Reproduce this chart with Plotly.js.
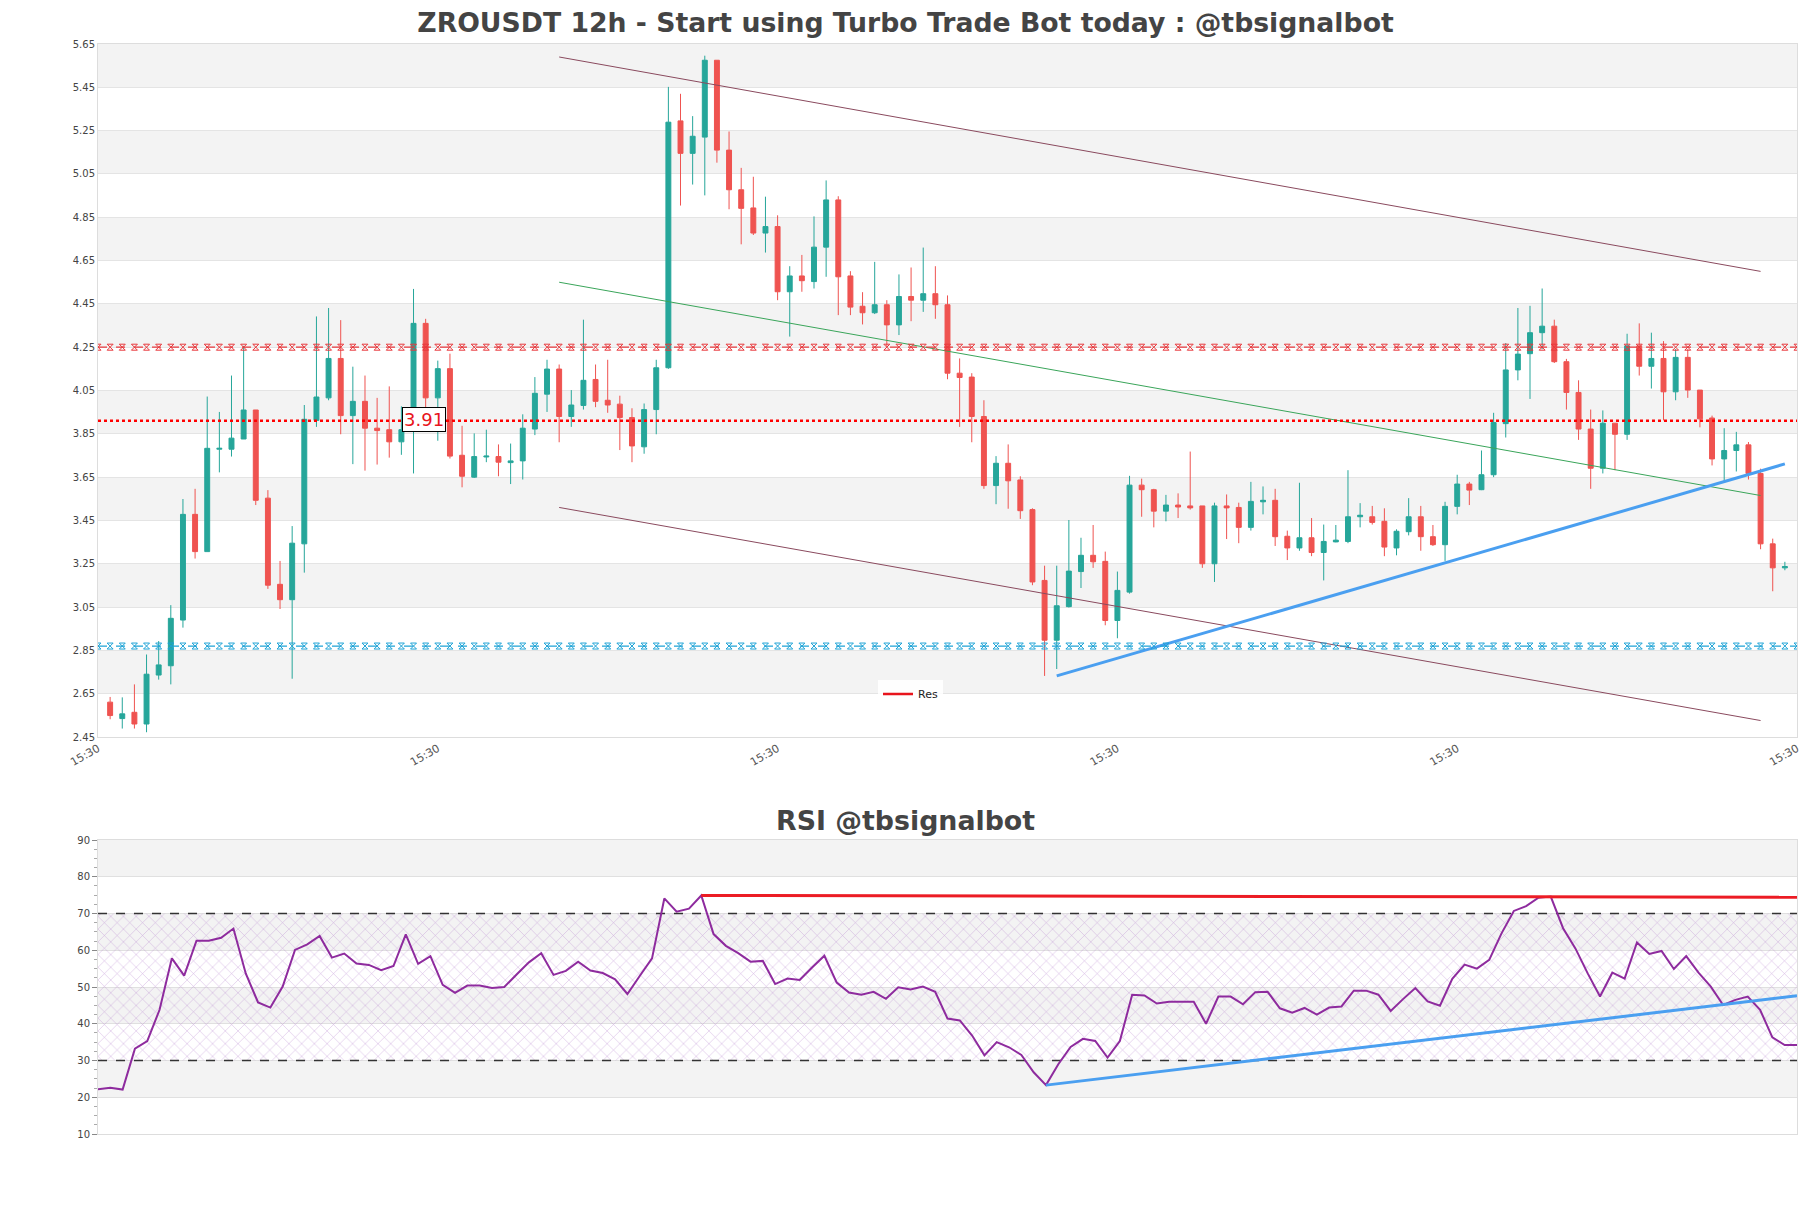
<!DOCTYPE html>
<html>
<head>
<meta charset="utf-8">
<script src="https://cdn.plot.ly/plotly-3.0.1.min.js"></script>
<style>html,body{margin:0;padding:0;background:#fff}#chart{width:1811px;height:1208px}</style>
</head>
<body>
<div id="chart"></div>
<script>
// ---------------- DATA ----------------
const opens = [2.611,2.535,2.564,2.510,2.736,2.779,2.990,3.478,3.306,3.779,3.779,3.826,3.960,3.553,3.155,3.084,3.342,3.912,4.016,4.198,3.934,4.000,3.876,3.869,3.813,3.869,4.360,4.016,4.151,3.751,3.650,3.743,3.745,3.717,3.725,3.872,4.033,4.149,3.930,3.981,4.101,4.005,3.987,3.925,3.790,3.962,4.155,5.295,5.145,5.220,5.575,5.160,4.977,4.893,4.777,4.807,4.506,4.579,4.553,4.712,4.930,4.579,4.439,4.409,4.446,4.353,4.484,4.467,4.497,4.446,4.130,4.112,3.930,3.611,3.714,3.637,3.500,3.173,2.897,3.052,3.214,3.289,3.261,2.988,3.119,3.613,3.592,3.493,3.521,3.517,3.517,3.250,3.517,3.510,3.418,3.536,3.543,3.377,3.323,3.370,3.302,3.351,3.353,3.467,3.467,3.446,3.323,3.398,3.467,3.375,3.338,3.515,3.618,3.592,3.661,3.897,4.145,4.220,4.317,4.347,4.183,4.041,3.872,3.691,3.899,3.848,4.256,4.162,4.198,4.044,4.203,4.052,3.923,3.734,3.773,3.799,3.667,3.342,3.231];
const highs = [2.635,2.633,2.693,2.831,2.893,3.059,3.549,3.596,4.022,3.951,4.119,4.256,3.960,3.590,3.263,3.424,3.983,4.392,4.431,4.375,4.160,4.119,4.016,4.069,3.977,4.519,4.381,4.188,4.220,3.887,3.852,3.869,3.801,3.805,3.940,4.112,4.192,4.170,4.052,4.377,4.170,4.192,4.026,3.968,3.990,4.192,5.452,5.420,5.317,5.596,5.575,5.246,5.078,5.037,4.945,4.859,4.624,4.676,4.854,5.020,4.947,4.601,4.504,4.644,4.467,4.586,4.618,4.710,4.624,4.489,4.198,4.130,4.005,3.747,3.801,3.654,3.506,3.241,3.241,3.452,3.370,3.429,3.306,3.214,3.656,3.643,3.596,3.568,3.575,3.768,3.517,3.532,3.570,3.532,3.628,3.607,3.596,3.403,3.624,3.461,3.431,3.429,3.682,3.530,3.517,3.506,3.409,3.553,3.517,3.429,3.536,3.661,3.628,3.773,3.947,4.269,4.431,4.441,4.521,4.377,4.196,4.097,3.962,3.958,3.899,4.312,4.360,4.317,4.278,4.241,4.241,4.052,3.934,3.876,3.859,3.812,3.689,3.366,3.259];
const lows = [2.532,2.489,2.489,2.472,2.715,2.693,2.955,3.274,3.306,3.672,3.745,3.826,3.521,3.134,3.041,2.719,3.209,3.882,4.005,3.848,3.710,3.680,3.708,3.740,3.753,3.667,3.962,3.818,3.736,3.603,3.646,3.719,3.654,3.618,3.639,3.844,3.951,3.811,3.882,3.962,3.973,3.947,3.775,3.719,3.758,3.848,4.150,4.904,5.001,4.951,5.102,4.887,4.725,4.768,4.687,4.467,4.299,4.506,4.521,4.575,4.398,4.398,4.355,4.403,4.252,4.306,4.370,4.413,4.381,4.102,3.882,3.811,3.596,3.525,3.504,3.457,3.151,2.732,2.764,3.048,3.138,3.231,2.966,2.906,3.112,3.467,3.418,3.446,3.461,3.500,3.231,3.166,3.364,3.345,3.403,3.478,3.332,3.267,3.310,3.285,3.173,3.349,3.345,3.418,3.431,3.285,3.289,3.381,3.310,3.332,3.263,3.478,3.521,3.590,3.650,3.833,4.097,4.011,4.241,4.177,3.962,3.822,3.596,3.667,3.682,3.822,4.119,4.059,3.912,4.005,4.016,3.880,3.704,3.629,3.676,3.639,3.317,3.123,3.220];
const closes = [2.549,2.557,2.510,2.740,2.783,2.998,3.478,3.306,3.783,3.783,3.830,3.960,3.543,3.151,3.084,3.345,3.917,4.020,4.198,3.934,4.000,3.876,3.865,3.813,3.869,4.360,4.016,4.151,3.747,3.654,3.745,3.747,3.719,3.725,3.876,4.037,4.149,3.930,3.983,4.097,4.000,3.983,3.925,3.794,3.962,4.155,5.289,5.145,5.224,5.575,5.160,4.977,4.891,4.777,4.807,4.506,4.579,4.557,4.712,4.930,4.575,4.435,4.409,4.446,4.353,4.484,4.467,4.497,4.446,4.130,4.110,3.930,3.611,3.714,3.633,3.495,3.166,2.897,3.056,3.216,3.289,3.259,2.988,3.127,3.613,3.592,3.493,3.521,3.512,3.508,3.250,3.517,3.508,3.418,3.538,3.543,3.375,3.323,3.370,3.302,3.353,3.359,3.467,3.474,3.441,3.327,3.400,3.467,3.375,3.338,3.515,3.618,3.590,3.661,3.902,4.145,4.218,4.317,4.347,4.183,4.041,3.872,3.691,3.899,3.848,4.256,4.162,4.198,4.044,4.203,4.052,3.919,3.734,3.773,3.799,3.667,3.342,3.231,3.237];

const rsiValues = [22.2,22.6,22.1,33.2,35.3,43.8,57.8,53.1,62.6,62.6,
  63.4,65.9,53.7,45.8,44.4,50.1,60.1,61.6,63.9,58.0,
  59.1,56.4,56.0,54.6,55.7,64.3,56.3,58.4,50.6,48.4,
  50.4,50.4,49.7,50.0,53.4,56.7,59.2,53.3,54.4,56.9,
  54.5,53.8,52.1,48.1,53.0,57.8,74.1,70.5,71.3,74.9,
  64.4,61.2,59.2,56.9,57.1,50.8,52.3,51.9,55.3,58.5,
  51.2,48.5,47.9,48.7,46.8,49.9,49.3,50.1,48.7,41.4,
  40.9,36.8,31.4,35.0,33.6,31.5,26.8,23.3,29.0,33.7,
  35.9,35.3,30.8,35.3,47.9,47.7,45.5,46.0,46.0,46.0,
  40.0,47.4,47.4,45.3,48.6,48.7,44.2,43.0,44.3,42.5,
  44.4,44.7,49.0,49.0,47.9,43.5,46.7,49.7,46.1,44.9,
  52.2,56.1,55.0,57.4,64.6,70.7,72.0,74.3,74.6,66.0,
  60.5,53.7,47.4,53.9,52.3,62.1,59.0,59.8,54.9,58.4,
  53.9,50.1,45.1,46.5,47.4,43.8,36.3,34.2,34.2];

// Horizontal levels
const resistanceLevel = 4.25;
const supportLevel = 2.87;
const resLevel = 3.91;
const resLabel = "3.91";

// Trend lines [x0, x1] (candle index) and [y0, y1] (price)
const channelX = [37, 136];
const channelUpper = [5.59, 4.60];
const channelMid = [4.55, 3.565];
const channelLower = [3.51, 2.526];
const supportLineX = [78, 138];
const supportLineY = [2.732, 3.711];

// RSI lines
const rsiResX = [49, 138];
const rsiResY = [74.9, 74.4];
const rsiSupX = [77, 138];
const rsiSupY = [23.3, 47.6];
const rsiUpper = 70, rsiLower = 30;

// Axes ticks
const xTickVals = [-1, 27, 55, 83, 111, 139];
const xTickText = ["15:30","15:30","15:30","15:30","15:30","15:30"];
const priceRange = [2.45, 5.65];
const rsiRange = [10, 90];
const priceBands = [[2.65,2.85],[3.05,3.25],[3.45,3.65],[3.85,4.05],[4.25,4.45],[4.65,4.85],[5.05,5.25],[5.45,5.65]];
const rsiBands = [[20,30],[40,50],[60,70],[80,90]];

const mainTitle = "ZROUSDT 12h - Start using Turbo Trade Bot today : @tbsignalbot";
const rsiTitle = "RSI @tbsignalbot";

// ---------------- BUILD ----------------
const idx = closes.map((_, i) => i);
const xFull = [xTickVals[0]].concat(idx, [xTickVals[xTickVals.length-1]]);
const FONT = "DejaVu Sans, Verdana, sans-serif";
const H = 1208, W = 1811;
const mainTop = 44, mainBot = 737, rsiTop = 840, rsiBot = 1134;

const traces = [];
traces.push({
  type: 'candlestick', x: idx, open: opens, high: highs, low: lows, close: closes,
  increasing: {line: {color: '#26a69a', width: 1}, fillcolor: '#26a69a'},
  decreasing: {line: {color: '#ef5350', width: 1}, fillcolor: '#ef5350'},
  whiskerwidth: 0, showlegend: false, hoverinfo: 'skip', xaxis: 'x', yaxis: 'y'
});
function lineTrace(x, y, color, width, extra) {
  return Object.assign({type: 'scatter', mode: 'lines', x: x, y: y,
    line: {color: color, width: width}, showlegend: false, hoverinfo: 'skip',
    xaxis: 'x', yaxis: 'y'}, extra || {});
}
traces.push(lineTrace(channelX, channelUpper, '#8a4a5e', 1));
traces.push(lineTrace(channelX, channelLower, '#8a4a5e', 1));
traces.push(lineTrace(channelX, channelMid, '#3aa55a', 1));
traces.push(lineTrace(supportLineX, supportLineY, '#4a9ff0', 3));
traces.push({type: 'scatter', mode: 'lines+markers', x: xFull, y: xFull.map(() => resistanceLevel),
  line: {color: '#e8383c', width: 1.2, dash: 'dash'},
  marker: {symbol: 'hourglass-open', size: 6, color: '#e8383c', line: {width: 1, color: '#e8383c'}},
  showlegend: false, hoverinfo: 'skip', xaxis: 'x', yaxis: 'y'});
traces.push({type: 'scatter', mode: 'lines+markers', x: xFull, y: xFull.map(() => supportLevel),
  line: {color: '#1ea3d6', width: 1.2, dash: 'dash'},
  marker: {symbol: 'hourglass-open', size: 6, color: '#1ea3d6', line: {width: 1, color: '#1ea3d6'}},
  showlegend: false, hoverinfo: 'skip', xaxis: 'x', yaxis: 'y'});
traces.push({type: 'scatter', mode: 'lines', name: 'Res',
  x: [xTickVals[0], xTickVals[xTickVals.length-1]], y: [resLevel, resLevel],
  line: {color: '#ff0000', width: 2.5, dash: 'dot'}, showlegend: false, hoverinfo: 'skip',
  xaxis: 'x', yaxis: 'y'});
// legend entry for Res (solid swatch as in the reference)
traces.push({type: 'scatter', mode: 'lines', name: 'Res', x: [null], y: [null],
  line: {color: '#e8141c', width: 2.5}, showlegend: true, hoverinfo: 'skip', xaxis: 'x', yaxis: 'y'});

// RSI hatch zone
traces.push({type: 'scatter', mode: 'lines', x: [idx[0], idx[idx.length-1]], y: [rsiLower, rsiLower],
  line: {width: 0, color: 'rgba(0,0,0,0)'}, showlegend: false, hoverinfo: 'skip', xaxis: 'x2', yaxis: 'y2'});
traces.push({type: 'scatter', mode: 'lines', x: [idx[0], idx[idx.length-1]], y: [rsiUpper, rsiUpper],
  line: {width: 0, color: 'rgba(0,0,0,0)'}, fill: 'tonexty', fillcolor: 'rgba(0,0,0,0)',
  fillpattern: {shape: 'x', fgcolor: 'rgba(170,110,200,0.6)', bgcolor: 'rgba(0,0,0,0)', size: 9, solidity: 0.1},
  showlegend: false, hoverinfo: 'skip', xaxis: 'x2', yaxis: 'y2'});
traces.push({type: 'scatter', mode: 'lines', x: [idx[0], idx[idx.length-1]], y: [rsiUpper, rsiUpper],
  line: {width: 1.3, color: '#333', dash: 'dash'}, showlegend: false, hoverinfo: 'skip', xaxis: 'x2', yaxis: 'y2'});
traces.push({type: 'scatter', mode: 'lines', x: [idx[0], idx[idx.length-1]], y: [rsiLower, rsiLower],
  line: {width: 1.3, color: '#333', dash: 'dash'}, showlegend: false, hoverinfo: 'skip', xaxis: 'x2', yaxis: 'y2'});
traces.push({type: 'scatter', mode: 'lines', x: idx, y: rsiValues,
  line: {color: '#8e2b9e', width: 2}, showlegend: false, hoverinfo: 'skip', xaxis: 'x2', yaxis: 'y2'});
traces.push({type: 'scatter', mode: 'lines', x: rsiResX, y: rsiResY,
  line: {color: '#ec1c24', width: 3}, showlegend: false, hoverinfo: 'skip', xaxis: 'x2', yaxis: 'y2'});
traces.push({type: 'scatter', mode: 'lines', x: rsiSupX, y: rsiSupY,
  line: {color: '#4a9ff0', width: 3}, showlegend: false, hoverinfo: 'skip', xaxis: 'x2', yaxis: 'y2'});

const shapes = [];
priceBands.forEach(b => shapes.push({type: 'rect', xref: 'x domain', x0: 0, x1: 1, yref: 'y', y0: b[0], y1: b[1],
  fillcolor: '#f3f3f3', line: {width: 0}, layer: 'below'}));
rsiBands.forEach(b => shapes.push({type: 'rect', xref: 'x2 domain', x0: 0, x1: 1, yref: 'y2', y0: b[0], y1: b[1],
  fillcolor: '#f3f3f3', line: {width: 0}, layer: 'below'}));

const ml = 98, mr = 14;
const plotW = W - ml - mr;
const layout = {
  width: W, height: H,
  margin: {l: ml, r: mr, t: 0, b: 0},
  paper_bgcolor: '#ffffff', plot_bgcolor: '#ffffff',
  font: {family: FONT, color: '#444'},
  boxgap: 0.42,
  title: {text: mainTitle, x: 0.5, xref: 'container', y: 1 - 23/H, yref: 'container', yanchor: 'middle', xanchor: 'center',
    font: {family: FONT, size: 26.7, color: '#444', weight: 700}},
  showlegend: true,
  legend: {x: (878 - ml)/plotW, y: 1 - 694/H, xanchor: 'left', yanchor: 'middle',
    bgcolor: 'rgba(255,255,255,0.85)', borderwidth: 0, font: {family: FONT, size: 11, color: '#222'},
    itemwidth: 30, tracegroupgap: 0},
  xaxis: {domain: [0, 1], anchor: 'y', range: [xTickVals[0], xTickVals[xTickVals.length-1]],
    tickmode: 'array', tickvals: xTickVals, ticktext: xTickText, tickangle: -30,
    tickfont: {family: FONT, size: 11, color: '#555'}, showgrid: false, zeroline: false,
    showline: true, mirror: true, linecolor: '#dddddd', linewidth: 1, rangeslider: {visible: false}, ticks: ''},
  yaxis: {domain: [1 - mainBot/H, 1 - mainTop/H], anchor: 'x', range: priceRange,
    tick0: priceRange[0], dtick: 0.2, tickformat: '.2f', tickfont: {family: FONT, size: 10, color: '#444'},
    gridcolor: '#e4e4e4', gridwidth: 1, zeroline: false, showline: true, mirror: true, linecolor: '#dddddd', ticks: ''},
  xaxis2: {domain: [0, 1], anchor: 'y2', range: [idx[0], idx[idx.length-1]], showticklabels: false,
    showgrid: false, zeroline: false, showline: true, mirror: true, linecolor: '#dddddd', ticks: ''},
  yaxis2: {domain: [1 - rsiBot/H, 1 - rsiTop/H], anchor: 'x2', range: rsiRange, dtick: 10, tick0: 10,
    tickfont: {family: FONT, size: 10, color: '#444'}, ticks: 'outside', ticklen: 5, tickcolor: '#888',
    minor: {dtick: 2.5, ticks: 'outside', ticklen: 3, tickcolor: '#aaa', showgrid: false},
    gridcolor: '#e0e0e0', zeroline: false, showline: true, mirror: true, linecolor: '#dddddd'},
  shapes: shapes,
  annotations: [
    {xref: 'x', yref: 'y', x: 25.85, y: resLevel + 0.008, text: resLabel, showarrow: false,
      font: {family: FONT, size: 18, color: '#e8141c'}, bgcolor: '#ffffff', bordercolor: '#000000',
      borderwidth: 1, borderpad: 1},
    {xref: 'paper', yref: 'paper', x: (W/2 - ml)/plotW, y: 1 - 820/H, xanchor: 'center', yanchor: 'middle',
      text: rsiTitle, showarrow: false, font: {family: FONT, size: 26.8, color: '#444', weight: 700}}
  ]
};

Plotly.newPlot('chart', traces, layout, {staticPlot: true, displayModeBar: false});
</script>
</body>
</html>
